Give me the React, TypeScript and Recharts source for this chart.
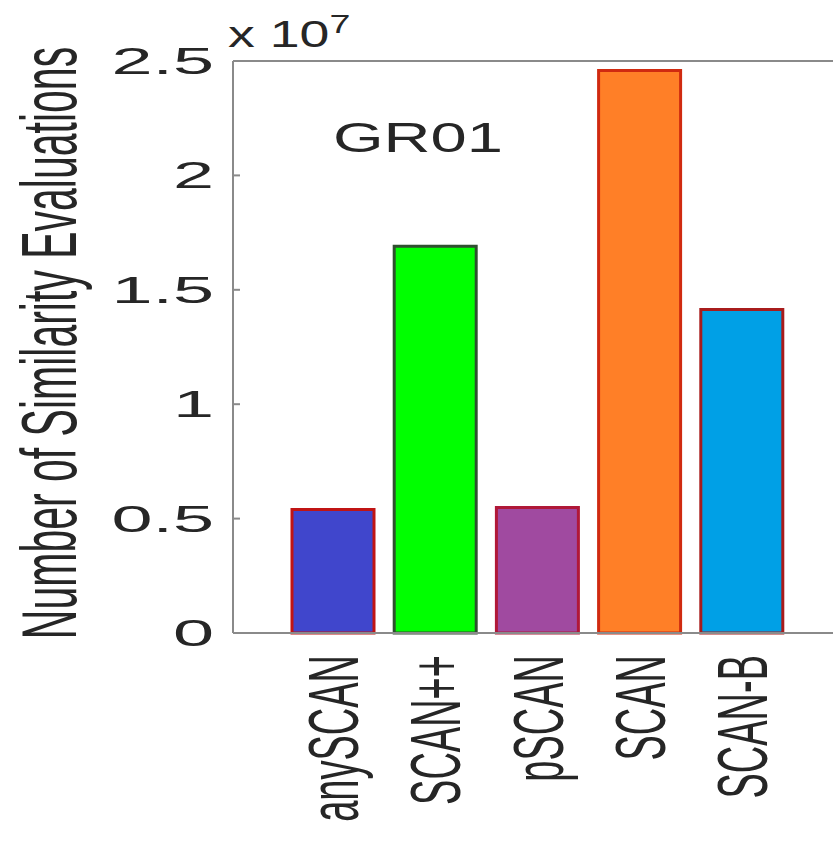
import React from "react";
import { BarChart, Bar, XAxis, YAxis, Cell, Label } from "recharts";

const categories = ["anySCAN", "SCAN++", "pSCAN", "SCAN", "SCAN-B"];
const values = [0.54e7, 1.69e7, 0.549e7, 2.458e7, 1.414e7];
const fills = ["#4046cc", "#00ff00", "#a04aa0", "#ff7f27", "#00a0e6"];
const strokes = ["#c01414", "#2f4f2f", "#b01838", "#d02a10", "#a81c1c"];
const yTicks = [0, 0.5e7, 1e7, 1.5e7, 2e7, 2.5e7];
const yTickLabels = ["0", "0.5", "1", "1.5", "2", "2.5"];
const topTicks = [0.75, 1.57, 2.4, 3.23, 4.05, 4.96];

const data = categories.map((c, i) => ({ name: c, value: values[i] }));

const W = 833;
const H = 841;
const PLOT_LEFT = 233;
const PLOT_TOP = 61;
const PLOT_BOTTOM = 633;
const AXIS = "#8a8a8a";
const TEXT = "#262626";
const FONT = "'Liberation Sans', Arial, Helvetica, sans-serif";

const YTick = (props: any) => {
  const { y, payload } = props;
  const x = PLOT_LEFT;
  const idx = yTicks.indexOf(payload.value);
  const label = idx >= 0 ? yTickLabels[idx] : "";
  return (
    <g>
      <line x1={x} x2={x + 7} y1={y} y2={y} stroke={AXIS} strokeWidth={2} />
      <text
        transform={`translate(${x - 19},${y}) scale(2.05,1)`}
        textAnchor="end"
        dy="0.36em"
        fontSize={36}
        fontFamily={FONT}
        fill={TEXT}
      >
        {label}
      </text>
    </g>
  );
};

const XTick = (props: any) => {
  const { x, payload } = props;
  return (
    <text
      transform={`translate(${x + 25},${PLOT_BOTTOM + 22}) scale(1.85,1) rotate(-90)`}
      textAnchor="end"
      fontSize={38}
      fontFamily={FONT}
      fill={TEXT}
    >
      {payload.value}
    </text>
  );
};

const YTitle = () => (
  <text
    transform={`translate(76,${(PLOT_TOP + PLOT_BOTTOM) / 2 - 4}) scale(1.9,1) rotate(-90)`}
    textAnchor="middle"
    fontSize={41}
    fontFamily={FONT}
    fill={TEXT}
  >
    Number of Similarity Evaluations
  </text>
);

const Exponent = () => (
  <text
    transform={`translate(228,47) scale(1.45,1)`}
    fontSize={37}
    fontFamily={FONT}
    fill={TEXT}
  >
    x 10
    <tspan dy={-14} fontSize={26}>7</tspan>
  </text>
);

const Title = () => (
  <text
    transform={`translate(333,152) scale(1.55,1)`}
    fontSize={42}
    fontFamily={FONT}
    fill={TEXT}
  >
    GR01
  </text>
);

export default function App() {
  return (
    <div>
      <style>{"html,body{margin:0;padding:0;overflow:hidden;background:#fff}"}</style>
      <BarChart
        width={W}
        height={H}
        data={data}
        margin={{ top: PLOT_TOP, right: 0, bottom: 0, left: 0 }}
      >
        <XAxis
          dataKey="name"
          height={H - PLOT_BOTTOM}
          padding={{ left: 49, right: 40 }}
          tickLine={false}
          tickSize={0}
          tickMargin={0}
          interval={0}
          tick={<XTick />}
          axisLine={{ stroke: AXIS, strokeWidth: 2 }}
        />
        <XAxis
          xAxisId="top"
          orientation="top"
          type="number"
          domain={[0, 600 / 102.2]}
          ticks={topTicks}
          allowDataOverflow
          mirror
          height={1}
          tick={false}
          tickSize={7}
          tickLine={{ stroke: AXIS, strokeWidth: 2 }}
          axisLine={{ stroke: AXIS, strokeWidth: 2 }}
        />
        <YAxis
          width={PLOT_LEFT}
          domain={[0, 2.5e7]}
          ticks={yTicks}
          interval={0}
          tickLine={false}
          tickSize={0}
          tickMargin={0}
          tick={<YTick />}
          axisLine={{ stroke: AXIS, strokeWidth: 2 }}
        >
          <Label content={<YTitle />} />
          <Label content={<Exponent />} />
          <Label content={<Title />} />
        </YAxis>
        <YAxis
          yAxisId="right"
          orientation="right"
          mirror
          domain={[0, 2.5e7]}
          ticks={yTicks}
          tick={false}
          tickSize={7}
          tickLine={{ stroke: AXIS, strokeWidth: 2 }}
          axisLine={false}
        />
        <Bar dataKey="value" barSize={82} isAnimationActive={false} strokeWidth={3}>
          {data.map((d, i) => (
            <Cell key={d.name} fill={fills[i]} stroke={strokes[i]} />
          ))}
        </Bar>
      </BarChart>
    </div>
  );
}
